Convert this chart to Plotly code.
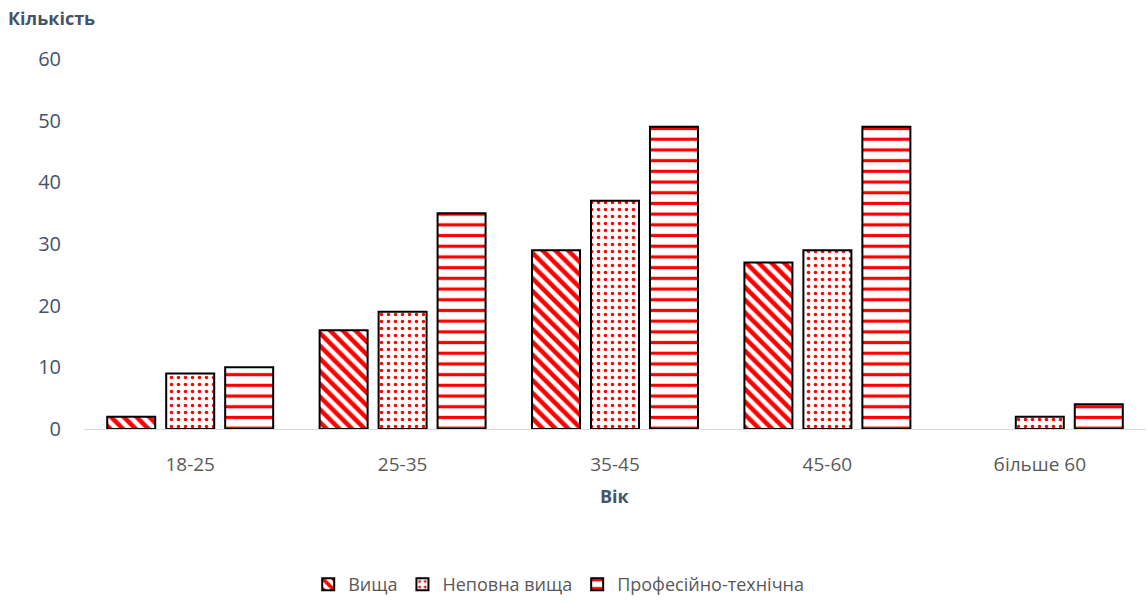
import plotly.graph_objects as go

categories = ["18-25", "25-35", "35-45", "45-60", "більше 60"]
series_names = ["Вища", "Неповна вища", "Професійно-технічна"]
vyshcha = [2, 16, 29, 27, 0]
nepovna_vyshcha = [9, 19, 37, 29, 2]
profesiyno_tekhnichna = [10, 35, 49, 49, 4]

series_values = [vyshcha, nepovna_vyshcha, profesiyno_tekhnichna]
patterns = [
    dict(shape="\\", size=9, solidity=0.5),
    dict(shape=".", size=7, solidity=0.2),
    dict(shape="-", size=10.7, solidity=0.3),
]

FONT = "Open Sans"
TEXT = "#44546A"

fig = go.Figure()
for name, vals, pat in zip(series_names, series_values, patterns):
    fig.add_trace(go.Bar(
        name=name,
        x=categories,
        y=vals,
        marker=dict(
            color="white",
            # empty bars get no outline
            line=dict(color="black", width=[2 if v > 0 else 0 for v in vals]),
            pattern=dict(fgcolor="#FF0000", bgcolor="white", fgopacity=1,
                         fillmode="overlay", **pat),
        ),
    ))

fig.update_layout(
    width=1148,
    height=603,
    margin=dict(l=84, r=2, t=59, b=173),
    paper_bgcolor="white",
    plot_bgcolor="white",
    barmode="group",
    bargap=0.167,
    bargroupgap=0.186,
    font=dict(family=FONT, color=TEXT, size=18),
    xaxis=dict(
        showgrid=False,
        showline=True,
        linecolor="#D9D9D9",
        linewidth=1,
        ticks="",
        ticklabelstandoff=18,
        automargin=False,
        tickfont=dict(size=19, color="#595959"),
    ),
    yaxis=dict(
        range=[0, 60],
        dtick=10,
        showgrid=False,
        zeroline=False,
        showline=False,
        ticks="",
        ticklabelstandoff=22,
        automargin=False,
        tickfont=dict(size=20, color=TEXT),
    ),
    legend=dict(
        orientation="h",
        x=0.447,
        xanchor="center",
        y=(430 - 603) / 371,
        yanchor="bottom",
        font=dict(size=18, color="#595959"),
        itemwidth=30,
        traceorder="normal",
    ),
    annotations=[
        dict(text="<b>Кількість</b>", xref="paper", yref="paper",
             x=-0.073, y=(430 - 18) / 371, xanchor="left", yanchor="middle",
             showarrow=False, font=dict(size=18, color=TEXT)),
        dict(text="<b>Вік</b>", xref="paper", yref="paper",
             x=0.5, y=(430 - 497) / 371, xanchor="center", yanchor="middle",
             showarrow=False, font=dict(size=18, color=TEXT)),
    ],
)

fig.write_html("out.html")
